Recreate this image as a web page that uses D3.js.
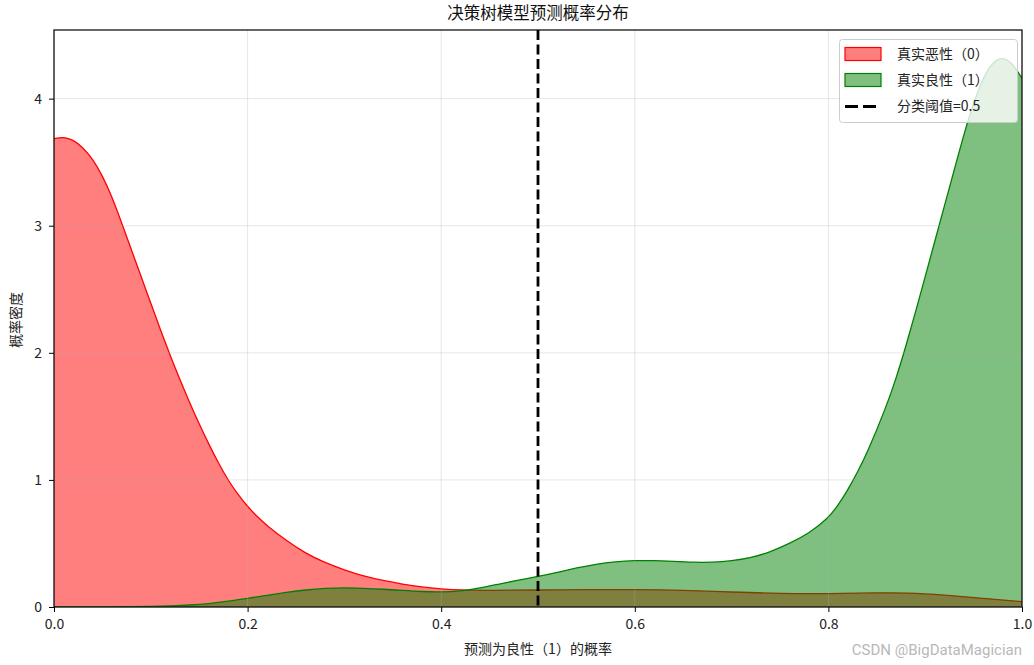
<!DOCTYPE html>
<html><head><meta charset="utf-8">
<script src="https://cdn.jsdelivr.net/npm/d3@7"></script>
<style>
body{margin:0;background:#fff;}
text{font-family:"Noto Sans CJK SC","DejaVu Sans",sans-serif;}
</style></head>
<body><svg id="c" width="1034" height="665"></svg>
<script>
// ---- data ----
const redX = [0.00,0.01,0.02,0.03,0.04,0.05,0.06,0.07,0.08,0.09,0.10,0.11,0.12,0.13,0.14,0.15,0.16,0.17,0.18,0.19,0.20,0.21,0.22,0.24,0.26,0.28,0.30,0.32,0.34,0.36,0.38,0.40,0.42,0.45,0.50,0.55,0.60,0.65,0.70,0.75,0.80,0.85,0.88,0.92,0.96,1.00];
const redY = [3.685,3.70,3.675,3.615,3.525,3.395,3.225,3.02,2.81,2.60,2.39,2.18,1.98,1.79,1.61,1.44,1.28,1.13,0.995,0.885,0.79,0.71,0.64,0.522,0.422,0.348,0.292,0.242,0.208,0.18,0.157,0.142,0.133,0.13,0.134,0.137,0.138,0.132,0.118,0.105,0.104,0.112,0.112,0.095,0.068,0.042];
const greenX = [0.00,0.05,0.08,0.10,0.12,0.14,0.16,0.18,0.20,0.22,0.24,0.26,0.28,0.30,0.32,0.34,0.36,0.38,0.40,0.42,0.44,0.46,0.48,0.50,0.52,0.54,0.56,0.58,0.60,0.62,0.64,0.66,0.68,0.70,0.72,0.74,0.76,0.78,0.80,0.81,0.82,0.83,0.84,0.86,0.87,0.88,0.89,0.90,0.91,0.92,0.93,0.94,0.95,0.96,0.97,0.98,0.99,1.00];
const greenY = [0.0,0.001,0.003,0.005,0.009,0.015,0.026,0.045,0.068,0.092,0.115,0.135,0.148,0.152,0.148,0.14,0.13,0.121,0.118,0.125,0.148,0.181,0.212,0.24,0.272,0.308,0.338,0.357,0.366,0.366,0.359,0.352,0.351,0.362,0.387,0.432,0.50,0.58,0.70,0.80,0.92,1.06,1.21,1.58,1.80,2.05,2.32,2.60,2.88,3.16,3.44,3.72,3.97,4.17,4.29,4.33,4.28,4.16];
const xTicks = [0.0,0.2,0.4,0.6,0.8,1.0];
const yTicks = [0,1,2,3,4];
const threshold = 0.5;
const title = "决策树模型预测概率分布";
const xLabel = "预测为良性（1）的概率";
const yLabel = "概率密度";
const legendLabels = ["真实恶性（0）","真实良性（1）","分类阈值=0.5"];
const watermark = "CSDN @BigDataMagician";

// ---- layout ----
const L=54,R=1022,T=30,B=607;
const svg=d3.select("#c");
const x=d3.scaleLinear().domain([0,1]).range([L,R]);
const y=d3.scaleLinear().domain([0,4.54]).range([B,T]);

svg.append("defs").append("clipPath").attr("id","clip")
  .append("rect").attr("x",L).attr("y",T).attr("width",R-L).attr("height",B-T);

const red=redX.map((v,i)=>[v,redY[i]]);
const green=greenX.map((v,i)=>[v,greenY[i]]);
const area=d3.area().x(d=>x(d[0])).y0(y(0)).y1(d=>y(d[1])).curve(d3.curveBasis);
const line=d3.line().x(d=>x(d[0])).y(d=>y(d[1])).curve(d3.curveBasis);

const g=svg.append("g").attr("clip-path","url(#clip)");
g.append("path").datum(red).attr("d",area).attr("fill","#ff0000").attr("fill-opacity",0.5);
g.append("path").datum(red).attr("d",line).attr("fill","none").attr("stroke","#ff0000").attr("stroke-width",1.3);
g.append("path").datum(green).attr("d",area).attr("fill","#008000").attr("fill-opacity",0.5);
g.append("path").datum(green).attr("d",line).attr("fill","none").attr("stroke","#008000").attr("stroke-width",1.3);

// grid
const grid=svg.append("g");
xTicks.forEach(t=>grid.append("line").attr("x1",x(t)).attr("x2",x(t)).attr("y1",T).attr("y2",B)
  .attr("stroke","#b0b0b0").attr("stroke-opacity",0.3).attr("stroke-width",1));
yTicks.forEach(t=>grid.append("line").attr("x1",L).attr("x2",R).attr("y1",y(t)).attr("y2",y(t))
  .attr("stroke","#b0b0b0").attr("stroke-opacity",0.3).attr("stroke-width",1));

// threshold
svg.append("line").attr("x1",x(threshold)).attr("x2",x(threshold)).attr("y1",T).attr("y2",B)
  .attr("stroke","#000").attr("stroke-width",2.8).attr("stroke-dasharray","10,4.5");

// axes
const xAxis=d3.axisBottom(x).tickValues(xTicks).tickFormat(d3.format(".1f")).tickSize(5).tickPadding(7);
const yAxis=d3.axisLeft(y).tickValues(yTicks).tickFormat(d3.format("d")).tickSize(5).tickPadding(7);
const gx=svg.append("g").attr("transform",`translate(0,${B})`).call(xAxis);
const gy=svg.append("g").attr("transform",`translate(${L},0)`).call(yAxis);
[gx,gy].forEach(a=>{a.select(".domain").remove();a.selectAll("text").attr("font-size",14).attr("fill","#222")
  .style("font-family",'"Noto Sans CJK SC",sans-serif');a.selectAll("line").attr("stroke","#000");});
// frame
svg.append("rect").attr("x",L).attr("y",T).attr("width",R-L).attr("height",B-T)
  .attr("fill","none").attr("stroke","#000").attr("stroke-width",1.2);

// titles
svg.append("text").attr("x",(L+R)/2).attr("y",19).attr("text-anchor","middle").attr("font-size",16.5).attr("fill","#111").text(title);
svg.append("text").attr("x",(L+R)/2).attr("y",654).attr("text-anchor","middle").attr("font-size",14).attr("fill","#222").text(xLabel);
svg.append("text").attr("transform","translate(21,320) rotate(-90)").attr("text-anchor","middle").attr("font-size",14).attr("fill","#222").text(yLabel);

// watermark
svg.append("text").attr("x",1022).attr("y",655).attr("text-anchor","end").attr("font-size",15)
  .attr("fill","#b8b8b8").style("font-family","Roboto,sans-serif").text(watermark);

// legend
const lg=svg.append("g");
lg.append("rect").attr("x",839.5).attr("y",39.5).attr("width",178).attr("height",83).attr("rx",3)
  .attr("fill","#fff").attr("fill-opacity",0.8).attr("stroke","#cccccc");
const cols=["#ff0000","#008000"];
[0,1].forEach(i=>{
  lg.append("rect").attr("x",845).attr("y",47.5+i*26).attr("width",36).attr("height",13)
   .attr("fill",cols[i]).attr("fill-opacity",0.5).attr("stroke",cols[i]).attr("stroke-width",1.2);
});
lg.append("line").attr("x1",845).attr("x2",881).attr("y1",106.5).attr("y2",106.5)
  .attr("stroke","#000").attr("stroke-width",2.8).attr("stroke-dasharray","13,5");
legendLabels.forEach((t,i)=>lg.append("text").attr("x",897).attr("y",59+i*26).attr("font-size",14).attr("fill","#222").text(t));
</script></body></html>
